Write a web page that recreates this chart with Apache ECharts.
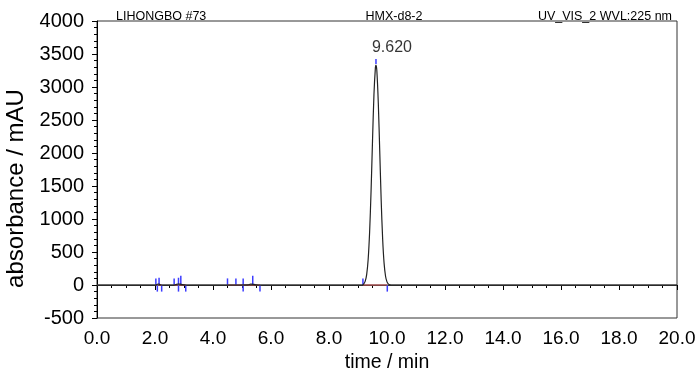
<!DOCTYPE html>
<html>
<head>
<meta charset="utf-8">
<script src="https://cdn.jsdelivr.net/npm/echarts@6/dist/echarts.min.js"></script>
<style>
  html, body { margin: 0; padding: 0; background: #fff; }
  #chart { width: 700px; height: 375px; }
</style>
</head>
<body>
<div id="chart"></div>
<script>
// chromatogram trace (time in min, absorbance in mAU)
var traceTime = [0, 1.9, 2.03, 2.08, 2.12, 2.18, 2.23, 2.66, 2.72, 2.8, 2.86, 2.95, 3.06,
    4.5, 5.2, 5.3, 5.4, 5.5, 5.62, 9.1, 9.15, 9.2, 9.25, 9.3, 9.35, 9.4, 9.45, 9.5, 9.55,
    9.6, 9.62, 9.65, 9.7, 9.75, 9.8, 9.85, 9.9, 9.95, 10.0, 10.05, 10.1, 10.2, 20];
var traceValue = [0, 0, 0, 12, 15, 5, 0, 0, 8, 15, 14, 5, 0,
    0, 3, 12, 10, 3, 0, 0, 0, 18, 58, 161, 386, 796, 1418, 2177, 2883,
    3294, 3333, 3246, 2758, 2022, 1277, 697, 328, 133, 47, 14, 3, 0, 0];

// peak start / end markers (blue), [time, top of mark in mAU]
var markUpTime = [2.03, 2.14, 2.66, 2.81, 2.89, 4.50, 4.79, 5.04, 5.37, 9.17];
var markUpTop = [100, 110, 100, 110, 140, 100, 100, 100, 140, 100];
var markDownTime = [2.08, 2.23, 2.81, 3.06, 5.04, 5.62, 10.01];
var markDownBottom = [-100, -100, -100, -100, -100, -100, -100];

// integration baselines (red)
var baseStart = [2.03, 2.66, 4.50, 9.17];
var baseEnd = [2.23, 3.06, 5.62, 10.01];

// main peak
var peakTime = 9.62;
var peakHeight = 3333;
var peakLabel = '9.620';

var font = "'Liberation Sans', Arial, sans-serif";

var chart = echarts.init(document.getElementById('chart'));

var traceData = [];
for (var i = 0; i < traceTime.length; i++) {
    traceData.push([traceTime[i], traceValue[i]]);
}
var markData = [];
for (var i = 0; i < markUpTime.length; i++) {
    markData.push([markUpTime[i], 0, markUpTop[i]]);
}
for (var i = 0; i < markDownTime.length; i++) {
    markData.push([markDownTime[i], 0, markDownBottom[i]]);
}
// apex marker
markData.push([peakTime, peakHeight + 15, peakHeight + 90]);

var baseData = [];
for (var i = 0; i < baseStart.length; i++) {
    baseData.push([baseStart[i], baseEnd[i]]);
}

chart.setOption({
    animation: false,
    title: [
        {text: 'LIHONGBO #73', left: 111, top: 5,
            textStyle: {fontFamily: font, fontSize: 12.5, fontWeight: 'normal', color: '#000'}},
        {text: 'HMX-d8-2', left: 389, top: 5, textAlign: 'center',
            textStyle: {fontFamily: font, fontSize: 12.5, fontWeight: 'normal', color: '#000'}},
        {text: 'UV_VIS_2 WVL:225 nm', right: 23, top: 5,
            textStyle: {fontFamily: font, fontSize: 12.5, fontWeight: 'normal', color: '#000'}}
    ],
    grid: {
        left: 97, right: 23, top: 21, bottom: 57,
        outerBoundsMode: 'none',
        containLabel: false,
        show: true, borderColor: '#333', borderWidth: 1
    },
    xAxis: {
        type: 'value', min: 0, max: 20, interval: 2,
        offset: 4,
        name: 'time / min', nameLocation: 'middle', nameGap: 31,
        nameTextStyle: {fontFamily: font, fontSize: 19.5, color: '#000'},
        axisLine: {lineStyle: {color: '#000', width: 1}},
        axisTick: {length: 5, lineStyle: {color: '#000'}},
        minorTick: {show: true, splitNumber: 4, length: 3, lineStyle: {color: '#000'}},
        splitLine: {show: false},
        axisLabel: {
            fontFamily: font, fontSize: 19, color: '#000', margin: 7,
            formatter: function (v) { return v.toFixed(1); }
        }
    },
    yAxis: {
        type: 'value', min: -500, max: 4000, interval: 500,
        offset: 4,
        name: 'absorbance / mAU', nameLocation: 'middle', nameGap: 54,
        nameTextStyle: {fontFamily: font, fontSize: 24, color: '#000',
            padding: [0, 38, 0, 0]},
        axisLine: {show: true, lineStyle: {color: '#000', width: 1}},
        axisTick: {show: true, length: 5, lineStyle: {color: '#000'}},
        minorTick: {show: true, splitNumber: 5, length: 3, lineStyle: {color: '#000'}},
        splitLine: {show: false},
        axisLabel: {
            fontFamily: font, fontSize: 20, color: '#000', margin: 9,
            formatter: function (v) { return String(v); }
        }
    },
    series: [
        {
            // grey zero line
            type: 'line',
            data: [[0, 0], [20, 0]],
            symbol: 'none',
            lineStyle: {color: '#666', width: 1},
            silent: true
        },
        {
            name: 'trace',
            type: 'line',
            data: traceData,
            symbol: 'none',
            smooth: 0.3,
            lineStyle: {color: '#222', width: 1.2}
        },
        {
            name: 'baseline',
            type: 'custom',
            data: baseData,
            renderItem: function (params, api) {
                var p0 = api.coord([api.value(0), 0]);
                var p1 = api.coord([api.value(1), 0]);
                return {
                    type: 'line',
                    shape: {x1: p0[0], y1: p0[1], x2: p1[0], y2: p1[1]},
                    style: {stroke: '#ff3030', lineWidth: 1.2}
                };
            }
        },
        {
            name: 'marks',
            type: 'custom',
            data: markData,
            renderItem: function (params, api) {
                var p0 = api.coord([api.value(0), api.value(1)]);
                var p1 = api.coord([api.value(0), api.value(2)]);
                return {
                    type: 'line',
                    shape: {x1: p0[0], y1: p0[1], x2: p1[0], y2: p1[1]},
                    style: {stroke: '#3c3cff', lineWidth: 1.5}
                };
            }
        },
        {
            name: 'peak',
            type: 'scatter',
            data: [[peakTime, peakHeight]],
            symbolSize: 0,
            label: {
                show: true, position: 'inside', offset: [16, -17],
                formatter: peakLabel,
                fontFamily: font, fontSize: 16, color: '#000'
            }
        }
    ]
});
</script>
</body>
</html>
